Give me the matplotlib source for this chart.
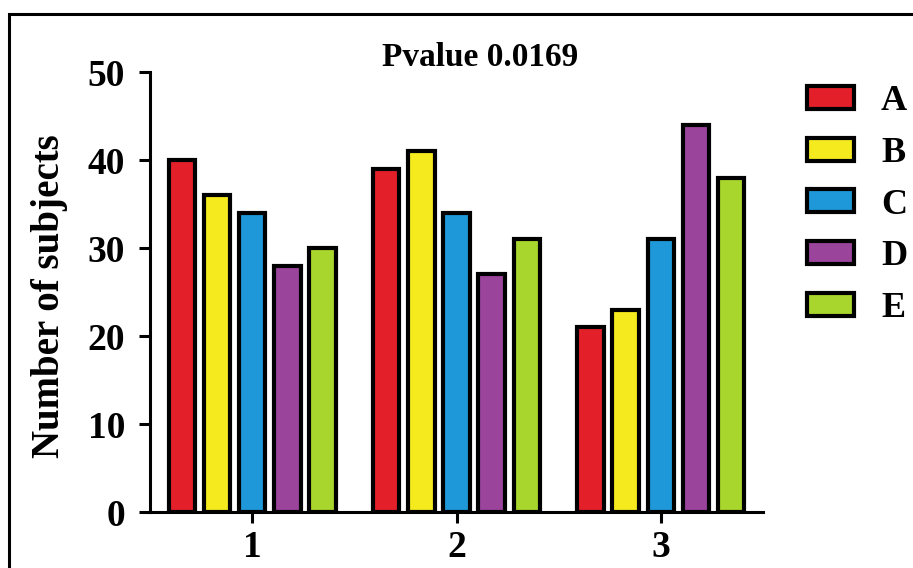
import numpy as np
import matplotlib
matplotlib.use("Agg")
import matplotlib.pyplot as plt
from matplotlib.patches import Rectangle

# data
groups = ["1", "2", "3"]
series = ["A", "B", "C", "D", "E"]
valuesA = [40, 39, 21]
valuesB = [36, 41, 23]
valuesC = [34, 34, 31]
valuesD = [28, 27, 44]
valuesE = [30, 31, 38]
colors = ["#E3202A", "#F5EA1E", "#1E98D8", "#9A449C", "#A8D62C"]
yTicks = [0, 10, 20, 30, 40, 50]
title = "Pvalue 0.0169"

plt.rcParams["font.family"] = ["Liberation Serif", "DejaVu Serif"]
plt.rcParams["font.weight"] = "bold"

fig = plt.figure(figsize=(9.13, 5.68), dpi=100)
ax = fig.add_axes([150 / 913, 1 - 512 / 568, 613 / 913, 440 / 568])

allValues = [valuesA, valuesB, valuesC, valuesD, valuesE]
x = np.arange(1, len(groups) + 1)
step = 0.172
width = 0.13
for i in range(len(series)):
    ax.bar(x + (i - 2) * step, allValues[i], width, color=colors[i],
           edgecolor="black", linewidth=3.0, label=series[i], zorder=3)

ax.set_xlim(0.5, 3.5)
ax.set_ylim(0, 50)
ax.set_yticks(yTicks)
ax.set_xticks(x)
ax.set_xticklabels(groups)

for side in ["top", "right"]:
    ax.spines[side].set_visible(False)
for side in ["left", "bottom"]:
    ax.spines[side].set_linewidth(2.2)
ax.spines["left"].set_zorder(4)
ax.tick_params(axis="both", width=2.2, length=8, labelsize=27)
ax.tick_params(axis="y", pad=10)
ax.tick_params(axis="x", pad=5)

ax.set_ylabel("Number of subjects", fontsize=28, fontweight="bold")
ax.yaxis.set_label_coords(-0.134, 0.49)
fig.text(480 / 913, 1 - 58 / 568, title, fontsize=24, fontweight="bold",
         ha="center", va="center")

leg = ax.legend(loc="upper left", bbox_to_anchor=(807 / 913, 1 - 85 / 568),
                bbox_transform=fig.transFigure, frameon=False, fontsize=26,
                handlelength=1.3, handleheight=0.6, labelspacing=0.52,
                handletextpad=0.75, borderaxespad=0, borderpad=0)
for h in leg.legend_handles:
    h.set_linewidth(3.0)

# outer frame of the figure
fig.patches.append(Rectangle((9 / 913, -0.05), 1.0, 1 - 14 / 568 + 0.05,
                             transform=fig.transFigure, fill=False,
                             edgecolor="black", linewidth=2.2))

fig.savefig("out.png", dpi=100)
